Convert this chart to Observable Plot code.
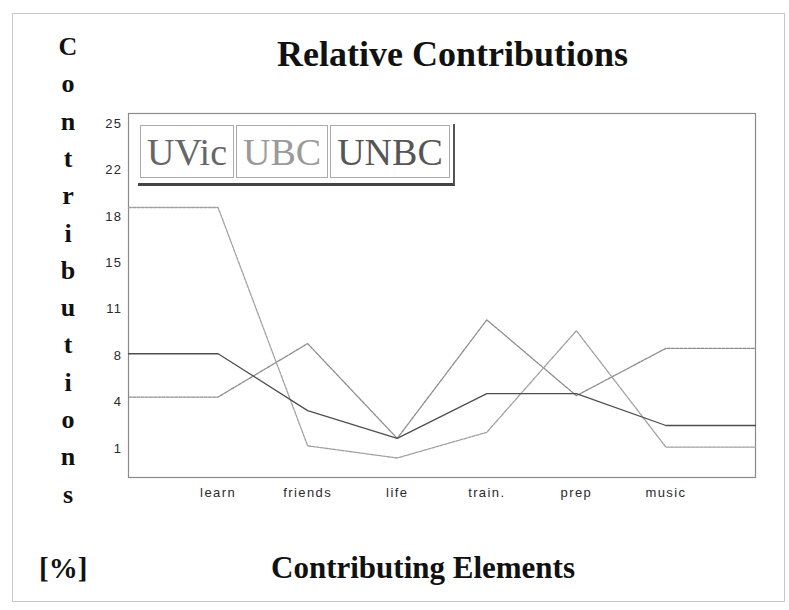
<!DOCTYPE html>
<html>
<head>
<meta charset="utf-8">
<script src="https://cdn.jsdelivr.net/npm/d3@7"></script>
<script src="https://cdn.jsdelivr.net/npm/@observablehq/plot@0.6"></script>
<style>
  html, body { margin: 0; padding: 0; background: #fff; }
  #wrap { position: relative; width: 789px; height: 610px; overflow: hidden; background: #fff; }
  #border { position: absolute; left: 12px; top: 13px; width: 771px; height: 587px; border: 1px solid #c8c8c8; }
  #chart { position: absolute; left: 0; top: 0; }
  .serif { font-family: "Liberation Serif", "Times New Roman", serif; font-weight: bold; color: #111; position: absolute; white-space: nowrap; }
  #title { left: 0; width: 905px; text-align: center; top: 33px; font-size: 36px; line-height: 42px; }
  #xlabel { left: 0; width: 846px; text-align: center; top: 550px; font-size: 31px; line-height: 36px; }
  #pct { left: 39px; top: 550px; font-size: 29px; line-height: 36px; }
  .vl { position: absolute; width: 40px; left: 48px; text-align: center; font-size: 26px; line-height: 28px; }
  #legend { position: absolute; left: 138px; top: 124px; height: 56px; display: flex; border-bottom: 3px solid #444; border-right: 2px solid #555; padding: 1px 1px 2px 2px; background: #fff; }
  .cell { border: 1px solid #aaa; margin-right: 2px; padding: 0 6px; height: 51px; font-family: "Liberation Serif", "Times New Roman", serif; font-size: 38px; line-height: 52px; }
</style>
</head>
<body>
<div id="wrap">
  <div id="border"></div>
  <div id="chart"></div>
  <div id="title" class="serif"></div>
  <div id="xlabel" class="serif"></div>
  <div id="pct" class="serif"></div>
  <div id="vlabel"></div>
  <div id="legend"></div>
</div>
<script>
// ---- data ----
const categories = ["learn", "friends", "life", "train.", "prep", "music"];
const seriesNames = ["UVic", "UBC", "UNBC"];
const uvicValues = [4.8, 8.75, 1.75, 10.5, 4.9, 8.4];
const ubcValues  = [18.8, 1.2, 0.3, 2.2, 9.7, 1.1];
const unbcValues = [8.0, 3.8, 1.75, 5.05, 5.05, 2.7];
const yTickLabels = ["1", "4", "8", "11", "15", "18", "22", "25"];
const titleText = "Relative Contributions";
const xTitle = "Contributing Elements";
const yTitle = "Contributions";
const unitText = "[%]";

// ---- styles (kept separate from data) ----
const seriesColors = {UVic: "#8c8c8c", UBC: "#a0a0a0", UNBC: "#4e4e4e"};
const seriesDash = {UVic: "3,1.2", UBC: "3,1.2", UNBC: null};
const legendColors = {UVic: "#666", UBC: "#9a9a9a", UNBC: "#555"};

// ---- build table: lines extend flat to both plot edges ----
const valuesBySeries = {UVic: uvicValues, UBC: ubcValues, UNBC: unbcValues};
const rows = [];
for (const s of seriesNames) {
  const vals = valuesBySeries[s];
  const n = vals.length;
  for (let i = 0; i <= n + 1; i++) {
    const k = Math.min(Math.max(i - 1, 0), n - 1);
    rows.push({series: s, pos: i, value: vals[k]});
  }
}
const yTicks = yTickLabels.map((_, k) => 1 + k * 24 / (yTickLabels.length - 1));

const chart = Plot.plot({
  width: 789,
  height: 610,
  marginLeft: 128,
  marginRight: 34,
  marginTop: 113,
  marginBottom: 133,
  style: {fontFamily: "'Liberation Sans', Arial, sans-serif", fontSize: "13px", color: "#2a2a2a", background: "transparent", letterSpacing: "1.4px"},
  x: {domain: [0, categories.length + 1]},
  y: {domain: [-1.14, 25.74]},
  marks: [
    Plot.frame({stroke: "#8a8a8a", strokeWidth: 1.2}),
    Plot.axisX(categories.map((_, i) => i + 1), {
      tickFormat: d => categories[d - 1], tickSize: 0, tickPadding: 10, label: null, fontSize: 13
    }),
    Plot.axisY(yTicks, {
      tickFormat: d => yTickLabels[Math.round((d - 1) * (yTickLabels.length - 1) / 24)],
      tickSize: 0, tickPadding: 6, label: null, fontSize: 13
    }),
    ...seriesNames.map(s => Plot.line(rows.filter(r => r.series === s), {
      x: "pos", y: "value",
      stroke: seriesColors[s], strokeWidth: 1.3,
      strokeDasharray: seriesDash[s] || undefined
    }))
  ]
});
document.getElementById("chart").appendChild(chart);

document.getElementById("title").textContent = titleText;
document.getElementById("xlabel").textContent = xTitle;
document.getElementById("pct").textContent = unitText;

const vl = document.getElementById("vlabel");
[...yTitle].forEach((ch, i) => {
  const d = document.createElement("div");
  d.className = "vl serif";
  d.style.top = (33 + i * 37.3) + "px";
  d.textContent = ch;
  vl.appendChild(d);
});

const lg = document.getElementById("legend");
seriesNames.forEach(s => {
  const c = document.createElement("div");
  c.className = "cell";
  c.style.color = legendColors[s];
  c.textContent = s;
  lg.appendChild(c);
});
</script>
</body>
</html>
